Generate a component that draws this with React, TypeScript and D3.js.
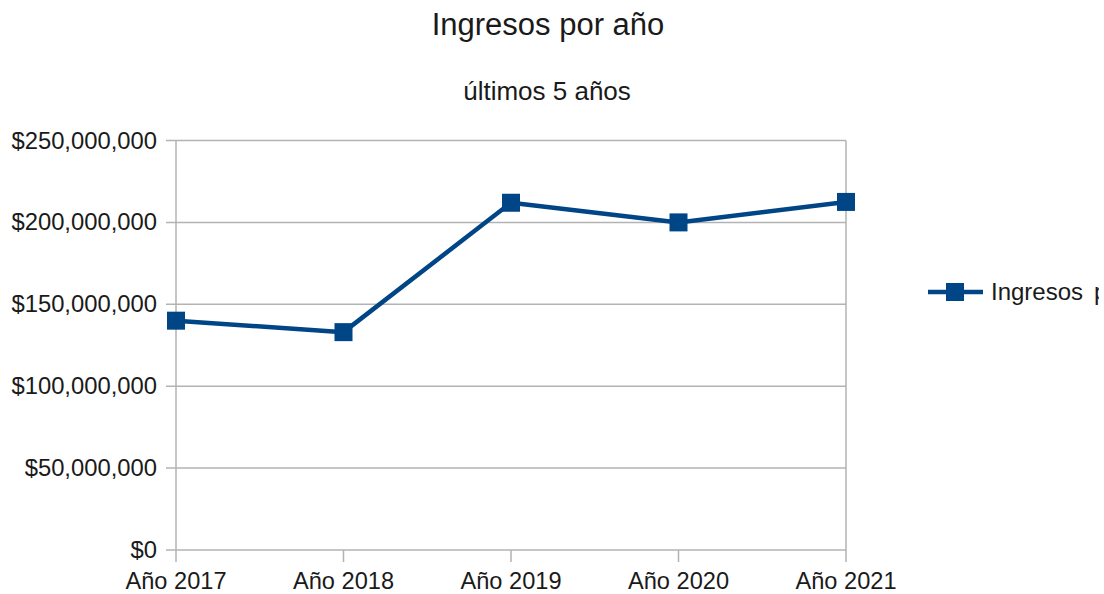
import React, { useEffect, useRef } from 'react'
import * as d3 from 'd3'

const categories = ['Año 2017', 'Año 2018', 'Año 2019', 'Año 2020', 'Año 2021']
const ingresos = [140000000, 133000000, 212000000, 200000000, 212500000]
const yTicks = [0, 50000000, 100000000, 150000000, 200000000, 250000000]
const seriesWords = ['Ingresos', 'por año']

const W = 1104
const H = 594

export default function App() {
  const ref = useRef<SVGSVGElement | null>(null)

  useEffect(() => {
    const svg = d3.select(ref.current)
    svg.selectAll('*').remove()
    const font = '"Liberation Sans", Arial, sans-serif'
    const ink = '#1a1a1a'
    const blue = '#004586'
    const grid = '#b3b3b3'

    const left = 176, right = 846, top = 140.5, bottom = 550

    const x = d3.scalePoint<string>().domain(categories).range([left, right])
    const y = d3.scaleLinear().domain([0, 250000000]).range([bottom, top])
    const fmt = (v: number) => '$' + d3.format(',')(v)

    svg.append('defs').append('clipPath').attr('id', 'legclip')
      .append('rect').attr('x', 0).attr('y', 0).attr('width', 1099).attr('height', H)

    svg.append('rect').attr('width', W).attr('height', H).attr('fill', '#fff')

    // titles
    svg.append('text').attr('x', 548).attr('y', 35).attr('text-anchor', 'middle')
      .attr('font-family', font).attr('font-size', 31).attr('fill', ink).text('Ingresos por año')
    svg.append('text').attr('x', 547).attr('y', 100).attr('text-anchor', 'middle')
      .attr('font-family', font).attr('font-size', 26).attr('fill', ink).text('últimos 5 años')

    // gridlines
    svg.selectAll('line.grid').data(yTicks).join('line')
      .attr('x1', left - 10).attr('x2', right)
      .attr('y1', d => y(d)).attr('y2', d => y(d))
      .attr('stroke', grid).attr('stroke-width', 1.5)

    // axes frame
    svg.append('line').attr('x1', left).attr('x2', left).attr('y1', top).attr('y2', bottom + 12)
      .attr('stroke', grid).attr('stroke-width', 1.5)
    svg.append('line').attr('x1', right).attr('x2', right).attr('y1', top).attr('y2', bottom + 12)
      .attr('stroke', grid).attr('stroke-width', 1.5)
    svg.selectAll('line.xt').data(categories.slice(1, -1)).join('line')
      .attr('x1', d => x(d)!).attr('x2', d => x(d)!)
      .attr('y1', bottom).attr('y2', bottom + 12)
      .attr('stroke', grid).attr('stroke-width', 1.5)

    // y labels
    svg.selectAll('text.yl').data(yTicks).join('text')
      .attr('x', 157).attr('y', d => y(d) + 8)
      .attr('text-anchor', 'end').attr('font-family', font).attr('font-size', 23.8)
      .attr('fill', ink).text(d => fmt(d))

    // x labels
    svg.selectAll('text.xl').data(categories).join('text')
      .attr('x', d => x(d)!).attr('y', 589)
      .attr('text-anchor', 'middle').attr('font-family', font).attr('font-size', 23.6)
      .attr('fill', ink).text(d => d)

    // line
    const line = d3.line<number>().x((_, i) => x(categories[i])!).y(d => y(d))
    svg.append('path').datum(ingresos).attr('d', line)
      .attr('fill', 'none').attr('stroke', blue).attr('stroke-width', 4.5)
      .attr('stroke-linejoin', 'round')

    const ms = 18
    svg.selectAll('rect.mk').data(ingresos).join('rect')
      .attr('x', (_, i) => x(categories[i])! - ms / 2)
      .attr('y', d => y(d) - ms / 2)
      .attr('width', ms).attr('height', ms).attr('fill', blue)

    // legend (cut at the right edge as in the source)
    const ly = 292
    svg.append('line').attr('x1', 928).attr('x2', 983).attr('y1', ly).attr('y2', ly)
      .attr('stroke', blue).attr('stroke-width', 4.5)
    svg.append('rect').attr('x', 946).attr('y', ly - 9).attr('width', 18).attr('height', 18).attr('fill', blue)
    const lt = svg.append('text').attr('y', ly + 8).attr('font-family', font).attr('font-size', 24)
      .attr('fill', ink).attr('clip-path', 'url(#legclip)')
    lt.append('tspan').attr('x', 991).text(seriesWords[0])
    lt.append('tspan').attr('x', 1094).text(seriesWords[1])
  }, [])

  return (
    <div style={{ position: 'absolute', left: 0, top: 0, width: W, height: H, overflow: 'hidden' }}>
      <svg ref={ref} width={W} height={H} />
    </div>
  )
}
